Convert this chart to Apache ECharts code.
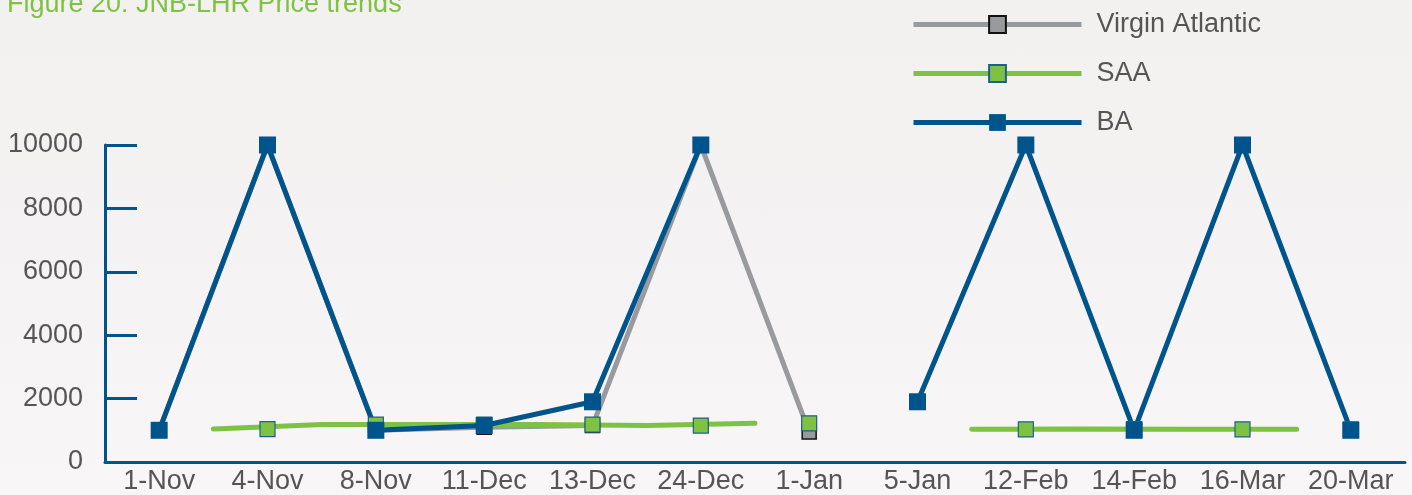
<!DOCTYPE html>
<html><head><meta charset="utf-8">
<script src="https://cdn.jsdelivr.net/npm/echarts@6/dist/echarts.min.js"></script>
<style>html,body{margin:0;padding:0;}#c{width:1412px;height:495px;background:linear-gradient(180deg,#f3f0f0 0%,#f5f2f3 50%,#f8f6f7 100%);}</style>
</head><body><div id="c"></div>
<script>
const categories = ['1-Nov','4-Nov','8-Nov','11-Dec','13-Dec','24-Dec','1-Jan','5-Jan','12-Feb','14-Feb','16-Mar','20-Mar'];
const virgin = [1000, 10000, 1000, 1100, 1150, 10000, 950, null, null, null, null, null];
const saa = [null, 1040, 1180, 1180, 1180, 1150, 1220, null, 1030, 1040, 1030, 1030];
const ba = [1000, 10000, 1000, 1150, 1900, 10000, null, 1900, 10000, 1000, 10000, 1000];
const yTicks = [0, 2000, 4000, 6000, 8000, 10000];

const BLUE = '#00548c', GREEN = '#7dc242', GRAY = '#999a9d';
const FONT = 'Liberation Sans';
const boundaries = categories.concat(['end']);
const saaLine = saa.concat([null]);

const chart = echarts.init(document.getElementById('c'), null, {renderer:'canvas'});
chart.setOption({
  backgroundColor: 'transparent',
  animation: false,
  title: {
    text: 'Figure 20: JNB-LHR Price trends',
    left: 2, top: -14,
    textStyle: {color: GREEN, fontFamily: FONT, fontWeight: 'normal', fontSize: 27}
  },
  legend: {
    orient: 'vertical', left: 906, top: 6, itemWidth: 168, itemHeight: 21, itemGap: 22,
    textStyle: {color: '#555', fontFamily: FONT, fontSize: 27, padding: [0,0,0,10]},
    data: [
      {name: 'Virgin Atlantic', lineStyle: {color: GRAY, width: 5}},
      {name: 'SAA', lineStyle: {color: GREEN, width: 5}},
      {name: 'BA', lineStyle: {color: BLUE, width: 5}}
    ]
  },
  grid: {left: 105, right: 7, top: 145, bottom: 33, containLabel: false},
  xAxis: [{
    type: 'category', data: categories, boundaryGap: true,
    axisLine: {lineStyle: {color: BLUE, width: 3}},
    axisTick: {inside: true, length: 7, lineStyle: {color: BLUE, width: 2}, alignWithLabel: false},
    axisLabel: {color: '#555', fontFamily: FONT, fontSize: 27, margin: 6, interval: 0}
  }, {
    type: 'category', data: boundaries, boundaryGap: false, show: false
  }],
  yAxis: {
    type: 'value', min: yTicks[0], max: yTicks[yTicks.length-1], interval: 2000,
    axisLine: {show: true, lineStyle: {color: BLUE, width: 3}},
    axisTick: {show: true, inside: true, length: 32, lineStyle: {color: BLUE, width: 3}},
    splitLine: {show: false},
    axisLabel: {color: '#555', fontFamily: FONT, fontSize: 27, margin: 22, formatter: v => String(v)}
  },
  series: [
    {
      name: 'Virgin Atlantic', type: 'line', data: virgin, xAxisIndex: 0,
      symbol: 'rect', symbolSize: 14, connectNulls: false,
      lineStyle: {color: GRAY, width: 5},
      itemStyle: {color: GRAY, borderColor: '#111', borderWidth: 1.5}
    },
    {
      name: 'SAA line', type: 'line', data: saaLine, xAxisIndex: 1,
      showSymbol: false, symbol: 'none', connectNulls: false,
      lineStyle: {color: GREEN, width: 5, cap: 'round'}, legendHoverLink: false
    },
    {
      name: 'SAA', type: 'line', data: saa, xAxisIndex: 0,
      symbol: 'rect', symbolSize: 15, connectNulls: false,
      lineStyle: {width: 0, color: GREEN},
      itemStyle: {color: GREEN, borderColor: '#1f5f8b', borderWidth: 1.2}
    },
    {
      name: 'BA', type: 'line', data: ba, xAxisIndex: 0,
      symbol: 'rect', symbolSize: 17, connectNulls: false,
      lineStyle: {color: BLUE, width: 5},
      itemStyle: {color: BLUE}
    }
  ]
});
</script></body></html>
